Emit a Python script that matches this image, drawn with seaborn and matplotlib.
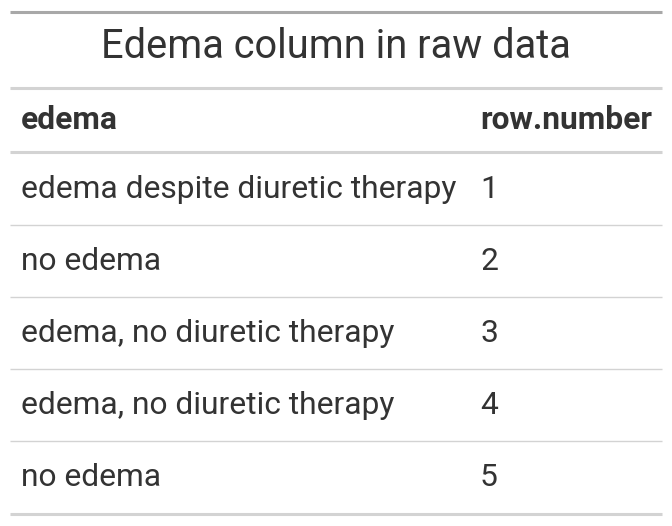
import matplotlib
matplotlib.use("Agg")
import matplotlib.pyplot as plt
import seaborn as sns

title = "Edema column in raw data"
columns = ["edema", "row.number"]
edema = ["edema despite diuretic therapy", "no edema", "edema, no diuretic therapy",
         "edema, no diuretic therapy", "no edema"]
row_number = [1, 2, 3, 4, 5]

sns.set_theme(style="white")
plt.rcParams["font.family"] = ["Roboto", "DejaVu Sans"]

W, H = 672, 526
fig = plt.figure(figsize=(W / 100, H / 100), dpi=100)
ax = fig.add_axes([0, 0, 1, 1])
ax.set_xlim(0, W)
ax.set_ylim(H, 0)
ax.axis("off")

x0, x1 = 10, 662
col_x = [21, 480]
thick = "#d3d3d3"
thin = "#d3d3d3"

ax.hlines(12, x0, x1, color="#a8a8a8", lw=2.2)
ax.text(W / 2, 46, title, ha="center", va="center", fontsize=28.7, color="#333333")
ax.hlines(88, x0, x1, color=thick, lw=2.2)
for cx, name in zip(col_x, columns):
    ax.text(cx, 120, name, ha="left", va="center", fontsize=22.9, fontweight="bold", color="#333333")
ax.hlines(152, x0, x1, color=thick, lw=2.2)

row_h = 72
for i, (e, n) in enumerate(zip(edema, row_number)):
    y = 190 + i * row_h
    ax.text(col_x[0], y, e, ha="left", va="center", fontsize=22.9, color="#333333")
    ax.text(col_x[1], y, str(n), ha="left", va="center", fontsize=22.9, color="#333333")
    if i < len(edema) - 1:
        ax.hlines(y + 35, x0, x1, color=thin, lw=1)
ax.hlines(514, x0, x1, color=thick, lw=2.2)

fig.savefig("out.png", dpi=100, facecolor="white")
